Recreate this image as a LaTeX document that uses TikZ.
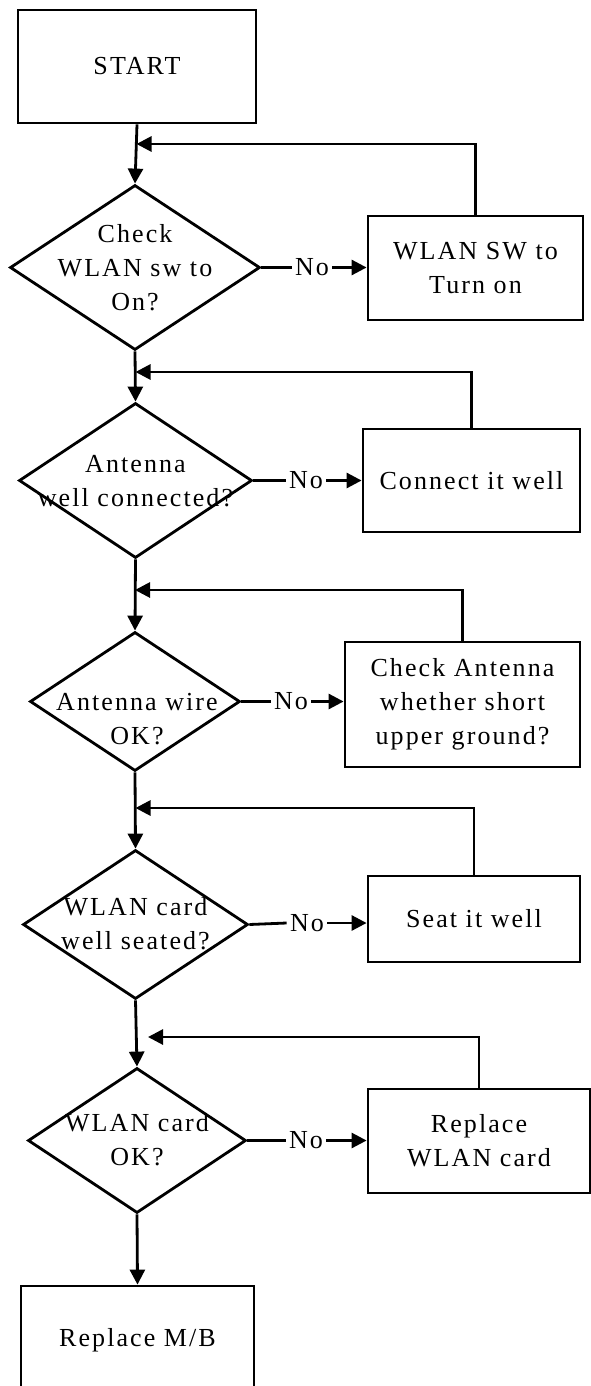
\documentclass[tikz,border=0pt]{standalone}
\usepackage{fontspec}
\setmainfont[LetterSpace=8]{Liberation Serif}
\usetikzlibrary{shapes.geometric,arrows.meta}
\begin{document}
\begin{tikzpicture}[x=1pt,y=-1pt,
  line width=2.8pt,
  box/.style={draw, rectangle, inner sep=0pt, align=center, font=\fontsize{26}{34}\selectfont},
  dia/.style={draw, diamond, inner sep=0pt},
  txt/.style={align=center, font=\fontsize{26}{34}\selectfont, inner sep=0pt},
  nolab/.style={font=\fontsize{26}{34}\selectfont, inner sep=2pt},
  arr/.style={-{Triangle[length=15pt,width=15pt]}},
]
\fill[white] (0,0) rectangle (591,1386);
\useasboundingbox (0,0) rectangle (591,1386);
\clip (0,0) rectangle (591,1386);

% START
\node[box, minimum width=238pt, minimum height=113pt] (start) at (137,66.5) {START};

% Row 1
\node[dia, minimum width=250pt, minimum height=165pt] (d1) at (135,267.5) {};
\node[txt] (t1) at (135,268) {Check\\WLAN sw to\\On?};
\node[box, minimum width=215pt, minimum height=104pt] (b1) at (475.5,268) {WLAN SW to\\Turn on};
\node[nolab] (n1) at (312,267.5) {No};
\coordinate (j1) at (136.5,144);
\draw[arr] (start.south) -- (d1.north);
\draw (d1.east) -- (n1.west);
\draw[arr] (n1.east) -- (b1.west |- n1.east);
\draw[arr] (b1.north) |- (j1);

% Row 2
\node[dia, minimum width=233pt, minimum height=155pt] (d2) at (135.5,480.5) {};
\node[txt] (t2) at (135.5,481) {Antenna\\well connected?};
\node[box, minimum width=217pt, minimum height=103pt] (b2) at (471.5,480.5) {Connect it well};
\node[nolab] (n2) at (306,480.5) {No};
\coordinate (j2) at (135.5,372);
\draw[arr] (d1.south) -- (d2.north);
\draw (d2.east) -- (n2.west);
\draw[arr] (n2.east) -- (b2.west |- n2.east);
\draw[arr] (b2.north) |- (j2);

% Row 3
\node[dia, minimum width=210pt, minimum height=139pt] (d3) at (135,701.5) {};
\node[txt] (t3) at (137,719) {Antenna wire\\OK?};
\node[box, minimum width=235pt, minimum height=125pt] (b3) at (462.5,704.5) {Check Antenna\\whether short\\upper ground?};
\node[nolab] (n3) at (291,701.5) {No};
\coordinate (j3) at (135,590);
\draw[arr] (d2.south) -- (d3.north);
\draw (d3.east) -- (n3.west);
\draw[arr] (n3.east) -- (b3.west |- n3.east);
\draw[arr] (b3.north) |- (j3);

% Row 4
\node[dia, minimum width=225pt, minimum height=149pt] (d4) at (135.5,924.5) {};
\node[txt] (t4) at (135.5,924) {WLAN card\\well seated?};
\node[box, minimum width=212pt, minimum height=86pt] (b4) at (474,919) {Seat it well};
\node[nolab] (n4) at (307,923) {No};
\coordinate (j4) at (135.5,808);
\draw[arr] (d3.south) -- (d4.north);
\draw (d4.east) -- (n4.west);
\draw[arr] (n4.east) -- (b4.west |- n4.east);
\draw[arr] (b4.north) |- (j4);

% Row 5
\node[dia, minimum width=218pt, minimum height=145pt] (d5) at (137,1140.5) {};
\node[txt] (t5) at (137,1140) {WLAN card\\OK?};
\node[box, minimum width=222pt, minimum height=104pt] (b5) at (479,1141) {Replace\\WLAN card};
\node[nolab] (n5) at (306,1140.5) {No};
\coordinate (j5) at (148,1037);
\draw[arr] (d4.south) -- (d5.north);
\draw (d5.east) -- (n5.west);
\draw[arr] (n5.east) -- (b5.west |- n5.east);
\draw[arr] (b5.north) |- (j5);

% Final
\node[box, minimum width=233pt, minimum height=108pt] (mb) at (137.5,1340) {Replace M/B};
\draw[arr] (d5.south) -- (mb.north);
\end{tikzpicture}
\end{document}
